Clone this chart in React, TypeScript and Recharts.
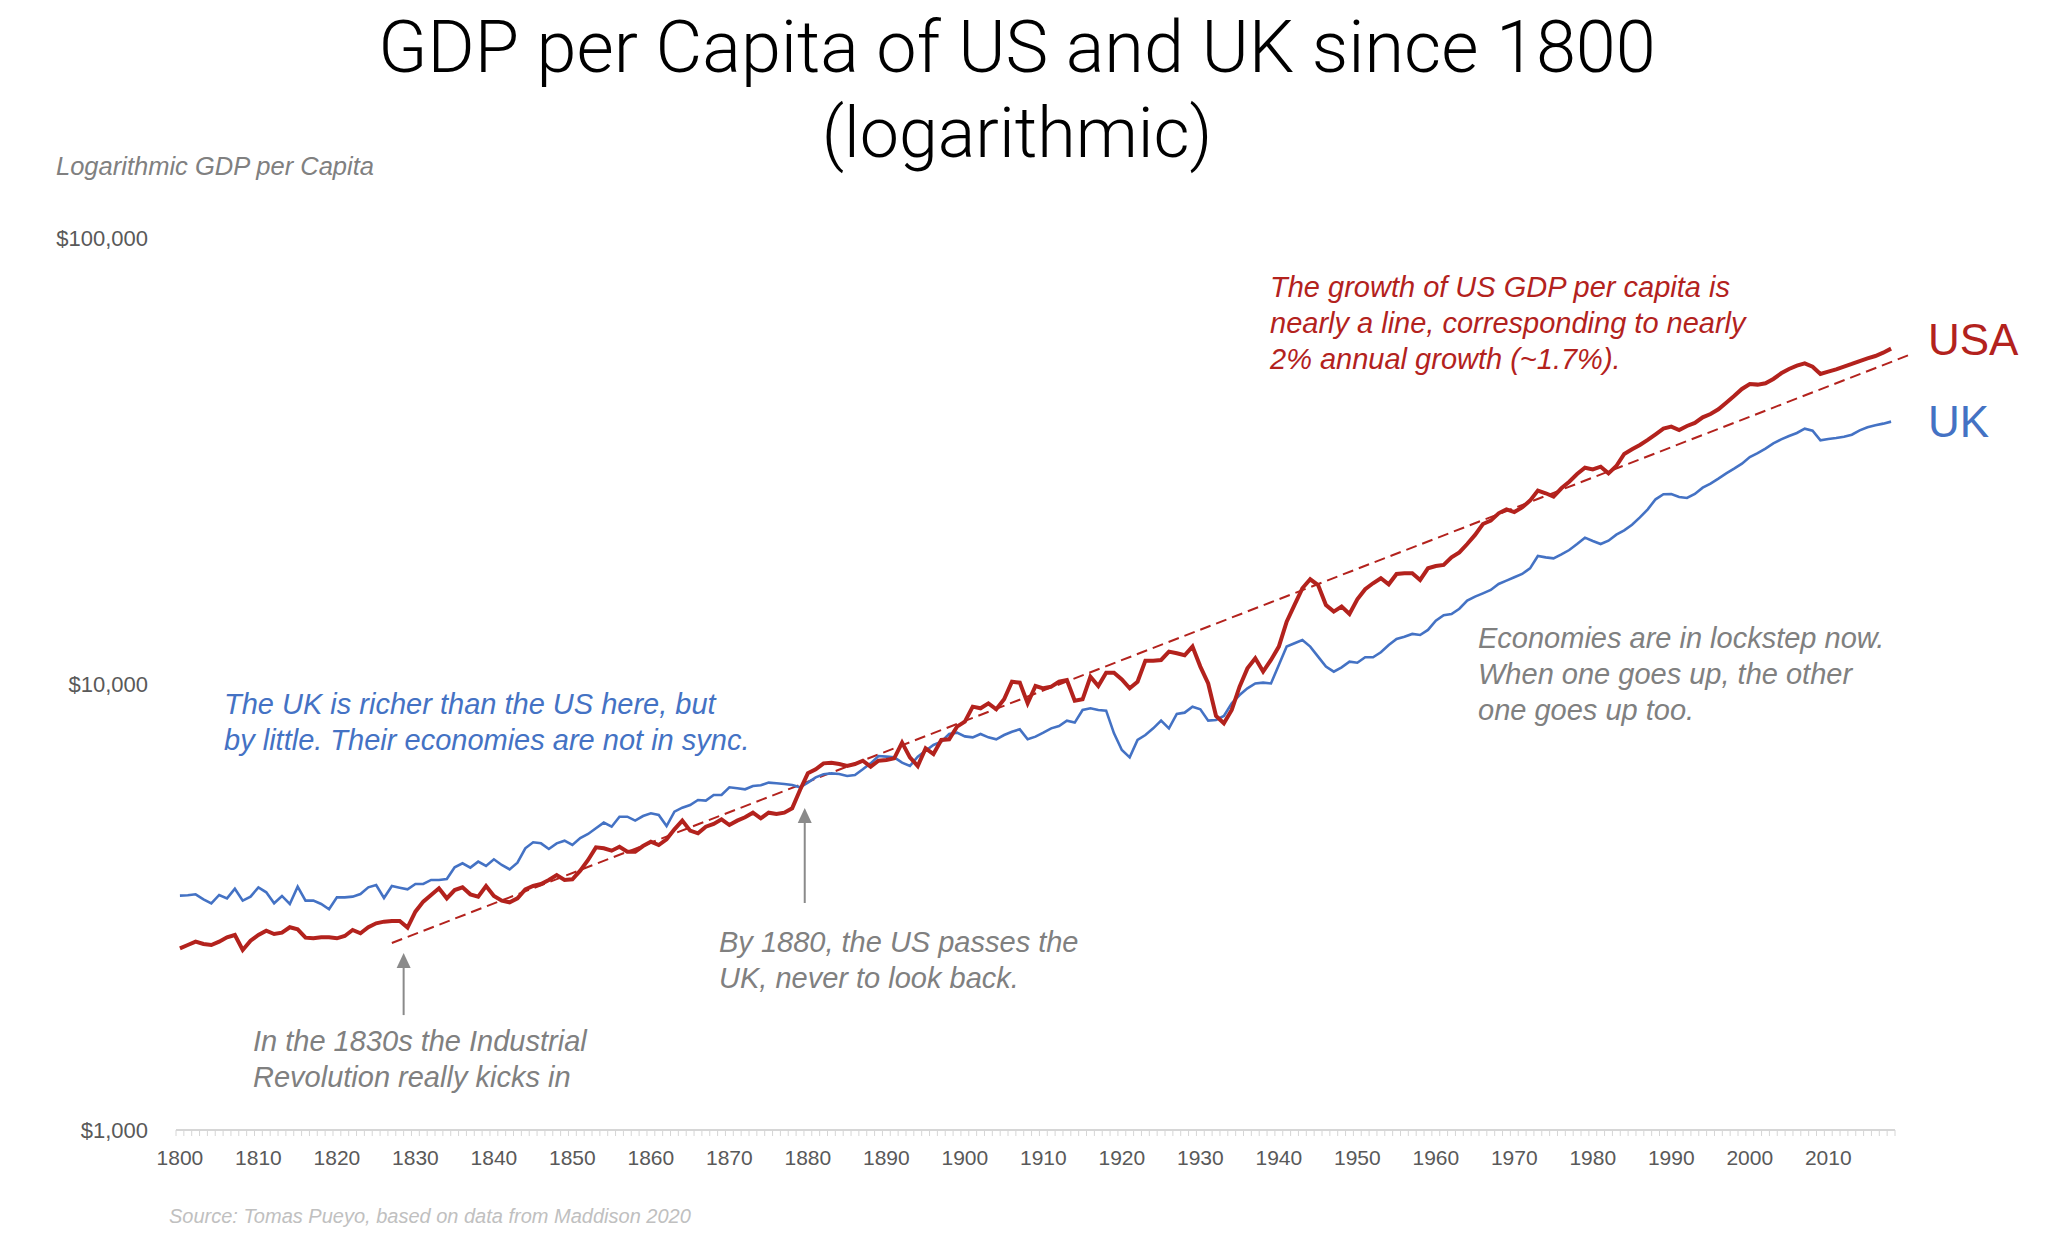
import React from 'react';
import {
  LineChart,
  Line,
  XAxis,
  YAxis,
  ReferenceLine,
  ReferenceDot,
} from 'recharts';

// GDP per capita (2011 US$), one value per year 1800-2018
const years: number[] = Array.from({ length: 219 }, (_, i) => 1800 + i);

const usaGdp: number[] = [
  2555, 2599, 2644, 2612, 2599, 2644, 2704, 2737, 2533, 2658,
  2737, 2798, 2751, 2770, 2848, 2818, 2699, 2690, 2704, 2704,
  2690, 2723, 2808, 2761, 2848, 2907, 2932, 2942, 2942, 2843,
  3087, 3251, 3365, 3483, 3307, 3452, 3500, 3376, 3336, 3525,
  3348, 3268, 3240, 3307, 3464, 3525, 3561, 3636, 3730, 3636,
  3648, 3815, 4031, 4302, 4281, 4229, 4317, 4208, 4208, 4332,
  4431, 4355, 4484, 4722, 4939, 4690, 4626, 4787, 4854, 4973,
  4829, 4939, 5024, 5146, 4998, 5146, 5111, 5146, 5263, 5786,
  6305, 6437, 6639, 6662, 6616, 6548, 6616, 6731, 6525, 6731,
  6754, 6812, 7387, 6848, 6548, 7174, 6966, 7489, 7515, 8023,
  8233, 8896, 8822, 9049, 8776, 9240, 10120, 10070, 9049, 9897,
  9779, 9863, 10120, 10210, 9176, 9240, 10380, 9897, 10600, 10600,
  10240, 9779, 10120, 11280, 11280, 11320, 11820, 11720, 11600, 12130,
  10940, 10030, 8479, 8163, 8744, 9863, 10840, 11420, 10660, 11320,
  12130, 13800, 15040, 16390, 17170, 16670, 15040, 14530, 14910, 14350,
  15480, 16310, 16820, 17260, 16730, 17650, 17710, 17710, 17110, 18170,
  18390, 18490, 19230, 19730, 20600, 21590, 22840, 23240, 24140, 24640,
  24300, 24890, 25770, 27140, 26770, 26300, 27470, 28420, 29570, 30550,
  30290, 30710, 29670, 30820, 32790, 33590, 34350, 35250, 36290, 37370,
  37760, 37110, 37890, 38480, 39620, 40310, 41290, 42740, 44240, 45870,
  47070, 46910, 47230, 48300, 49730, 50850, 51730, 52360, 51460, 49560,
  50150, 50760, 51460, 52180, 52990, 53720, 54370, 55320, 56480,
];

const ukGdp: number[] = [
  3353, 3359, 3376, 3290, 3223, 3365, 3307, 3476, 3268, 3336,
  3500, 3411, 3223, 3348, 3212, 3512, 3268, 3268, 3212, 3125,
  3324, 3324, 3336, 3382, 3500, 3543, 3313, 3525, 3494, 3464,
  3561, 3561, 3636, 3636, 3654, 3881, 3962, 3875, 3997, 3908,
  4045, 3928, 3840, 3976, 4281, 4416, 4393, 4266, 4393, 4454,
  4355, 4515, 4610, 4747, 4889, 4787, 5041, 5041, 4939, 5058,
  5129, 5085, 4804, 5173, 5281, 5355, 5495, 5476, 5639, 5639,
  5866, 5836, 5806, 5907, 5927, 6010, 5989, 5968, 5937, 5866,
  6010, 6176, 6273, 6305, 6284, 6219, 6251, 6437, 6639, 6896,
  6873, 6848, 6662, 6548, 6873, 7087, 7298, 7425, 7724, 7778,
  7630, 7593, 7724, 7593, 7515, 7685, 7818, 7913, 7515, 7619,
  7778, 7954, 8050, 8276, 8192, 8744, 8822, 8744, 8714, 7750,
  7112, 6848, 7489, 7685, 7954, 8276, 7954, 8566, 8625, 8896,
  8776, 8276, 8305, 8479, 9049, 9448, 9779, 10030, 10070, 10030,
  11030, 12130, 12340, 12550, 12130, 11520, 10940, 10660, 10900, 11220,
  11160, 11480, 11480, 11780, 12230, 12620, 12770, 12950, 12880, 13220,
  13870, 14260, 14350, 14750, 15380, 15700, 15970, 16250, 16760, 17050,
  17350, 17650, 18170, 19360, 19230, 19130, 19530, 19970, 20600, 21290,
  20920, 20600, 20960, 21620, 22110, 22760, 23640, 24640, 25950, 26640,
  26670, 26260, 26120, 26670, 27560, 28130, 28870, 29670, 30390, 31190,
  32280, 32950, 33700, 34640, 35370, 35980, 36540, 37370, 36980, 35180,
  35430, 35610, 35850, 36220, 37050, 37630, 38020, 38350, 38750,
];

const tickYears: number[] = [1800, 1810, 1820, 1830, 1840, 1850, 1860, 1870, 1880, 1890, 1900, 1910, 1920, 1930, 1940, 1950, 1960, 1970, 1980, 1990, 2000, 2010];
const yTicks: number[] = [1000, 10000, 100000];

// dashed trend line end points (year, value)
const trendYears: number[] = [1827, 2020.3];
const trendValues: number[] = [2626, 54660];

// annotation arrows: year, bottom of shaft, base of head
const arrowYears: number[] = [1828.5, 1879.6];
const arrowFrom: number[] = [1810, 3228];
const arrowTo: number[] = [2308, 4880];

const RED = '#b3221d';
const BLUE = '#4472c4';
const GREY = '#808080';
const FONT = '"Liberation Sans", Arial, Helvetica, sans-serif';
const TITLE_FONT = 'Roboto, "Liberation Sans", Arial, sans-serif';

const data = years.map((year, i) => ({ year, usa: usaGdp[i], uk: ukGdp[i] }));
// minor ticks sit on the borders between years
const yearBorders = [...years.map((y) => y - 0.5), years[years.length - 1] + 0.5];
const xDomain: [number, number] = [yearBorders[0], yearBorders[yearBorders.length - 1]];

const ArrowHead = (props: any) => {
  const { cx, cy } = props;
  return <polygon points={`${cx - 7},${cy} ${cx + 7},${cy} ${cx},${cy - 15}`} fill="#8a8a8a" />;
};

const NoLabel = () => <g />;

const annotations = [
  { x: 1270, y: 297, color: RED, lines: ['The growth of US GDP per capita is', 'nearly a line, corresponding to nearly', '2% annual growth (~1.7%).'] },
  { x: 224, y: 714, color: BLUE, lines: ['The UK is richer than the US here, but', 'by little. Their economies are not in sync.'] },
  { x: 1478, y: 648, color: GREY, lines: ['Economies are in lockstep now.', 'When one goes up, the other', 'one goes up too.'] },
  { x: 719, y: 952, color: GREY, lines: ['By 1880, the US passes the', 'UK, never to look back.'] },
  { x: 253, y: 1051, color: GREY, lines: ['In the 1830s the Industrial', 'Revolution really kicks in'] },
];

export default function App() {
  return (
    <div style={{ position: 'absolute', left: 0, top: 0, width: 2048, height: 1249, background: '#fff', fontFamily: FONT }}>
      <LineChart width={2048} height={1249} data={data} margin={{ top: 238, right: 153, bottom: 53, left: 0 }}>
        <XAxis
          xAxisId="minor"
          type="number"
          dataKey="year"
          domain={xDomain}
          ticks={yearBorders}
          interval={0}
          tick={NoLabel}
          tickSize={6}
          tickLine={{ stroke: '#d6d6d6', strokeWidth: 1 }}
          axisLine={{ stroke: '#d6d6d6', strokeWidth: 2 }}
          height={6}
          allowDataOverflow
        />
        <XAxis
          xAxisId="years"
          type="number"
          dataKey="year"
          domain={xDomain}
          ticks={tickYears}
          interval={0}
          tickLine={false}
          axisLine={false}
          tickSize={0}
          tickMargin={14}
          tick={{ fill: '#595959', fontSize: 21, fontFamily: FONT }}
          height={60}
          allowDataOverflow
        />
        <YAxis
          type="number"
          scale="log"
          domain={[1000, 100000]}
          ticks={yTicks}
          interval={0}
          allowDataOverflow
          axisLine={false}
          tickLine={false}
          tickSize={0}
          tickMargin={28}
          width={176}
          tick={{ fill: '#595959', fontSize: 22, fontFamily: FONT }}
          tickFormatter={(v: number) => `$${v.toLocaleString('en-US')}`}
        />
        <ReferenceLine
          xAxisId="years"
          segment={[
            { x: trendYears[0], y: trendValues[0] },
            { x: trendYears[1], y: trendValues[1] },
          ]}
          stroke={RED}
          strokeWidth={2}
          strokeDasharray="11 6"
          ifOverflow="visible"
        />
        {arrowYears.map((yr, i) => (
          <ReferenceLine
            key={`shaft-${i}`}
            xAxisId="years"
            segment={[
              { x: yr, y: arrowFrom[i] },
              { x: yr, y: arrowTo[i] },
            ]}
            stroke="#8a8a8a"
            strokeWidth={2}
            ifOverflow="visible"
          />
        ))}
        {arrowYears.map((yr, i) => (
          <ReferenceDot
            key={`head-${i}`}
            xAxisId="years"
            x={yr}
            y={arrowTo[i]}
            shape={ArrowHead}
            ifOverflow="visible"
          />
        ))}
        <Line
          xAxisId="years"
          type="linear"
          dataKey="uk"
          stroke={BLUE}
          strokeWidth={2.6}
          dot={false}
          activeDot={false}
          isAnimationActive={false}
        />
        <Line
          xAxisId="years"
          type="linear"
          dataKey="usa"
          stroke={RED}
          strokeWidth={4}
          dot={false}
          activeDot={false}
          isAnimationActive={false}
        />
      </LineChart>
      <svg width={2048} height={1249} style={{ position: 'absolute', left: 0, top: 0, pointerEvents: 'none' }}>
        <text x={1017} y={72} textAnchor="middle" fontSize={72} fontWeight={300} fill="#000" fontFamily={TITLE_FONT}>
          GDP per Capita of US and UK since 1800
        </text>
        <text x={1017} y={157} textAnchor="middle" fontSize={70} fontWeight={300} fill="#000" fontFamily={TITLE_FONT}>
          (logarithmic)
        </text>
        <text x={56} y={175} fontSize={25.5} fontStyle="italic" fill={GREY} fontFamily={FONT}>
          Logarithmic GDP per Capita
        </text>
        <text x={169} y={1223} fontSize={20} fontStyle="italic" fill="#c0c0c0" fontFamily={FONT}>
          Source: Tomas Pueyo, based on data from Maddison 2020
        </text>
        <text x={1928} y={355} fontSize={44} fill={RED} fontFamily={FONT}>USA</text>
        <text x={1928} y={437} fontSize={44} fill={BLUE} fontFamily={FONT}>UK</text>
        {annotations.map((a, i) => (
          <text key={i} x={a.x} y={a.y} fontSize={29} fontStyle="italic" fill={a.color} fontFamily={FONT}>
            {a.lines.map((l, j) => (
              <tspan key={j} x={a.x} dy={j === 0 ? 0 : 36}>{l}</tspan>
            ))}
          </text>
        ))}
      </svg>
    </div>
  );
}
